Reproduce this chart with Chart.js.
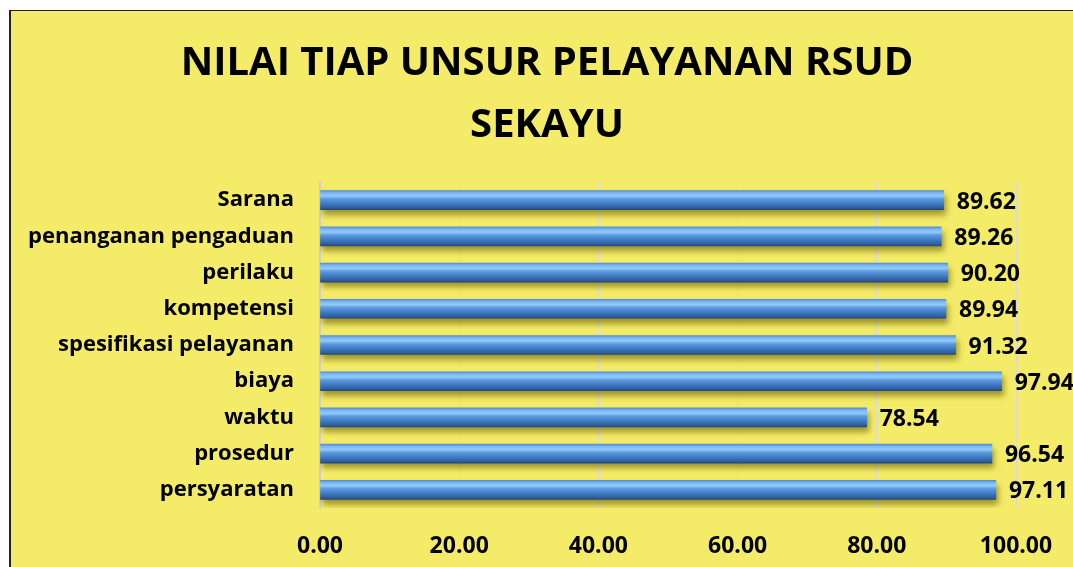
<!DOCTYPE html>
<html>
<head>
<meta charset="utf-8">
<script src="https://cdn.jsdelivr.net/npm/chart.js@4.4.1/dist/chart.umd.min.js"></script>
<style>
  html, body { margin: 0; padding: 0; background: #fff; overflow: hidden; }
  #frame {
    position: absolute; left: 9px; top: 10px; width: 1080px; height: 570px;
    background: #F4EC68; border-left: 2px solid #222; border-top: 1px solid #222;
  }
  #wrap { position: absolute; left: 0; top: 0; width: 1072px; height: 556px; }
</style>
</head>
<body>
<div id="frame"><div id="wrap"><canvas id="chart"></canvas></div></div>
<script>
// data (top to bottom)
const categories = [
  "Sarana",
  "penanganan pengaduan",
  "perilaku",
  "kompetensi",
  "spesifikasi pelayanan",
  "biaya",
  "waktu",
  "prosedur",
  "persyaratan",
];
const values = [89.62, 89.26, 90.2, 89.94, 91.32, 97.94, 78.54, 96.54, 97.11];
const xTicks = [0, 20, 40, 60, 80, 100];

const FONT = "'Open Sans', 'Noto Sans', sans-serif";
const BAR_H = 19;

// cylinder look gradient for each bar
const barFill = (context) => {
  const chart = context.chart;
  const yScale = chart.scales.y;
  const yc = yScale ? yScale.getPixelForValue(context.dataIndex) : NaN;
  if (!isFinite(yc)) return "#4a88d0";
  const g = chart.ctx.createLinearGradient(0, yc - BAR_H / 2, 0, yc + BAR_H / 2);
  g.addColorStop(0, "#4f8fd8");
  g.addColorStop(0.12, "#7ab6f2");
  g.addColorStop(0.28, "#92cbfb");
  g.addColorStop(0.45, "#5a98e0");
  g.addColorStop(0.7, "#3f78c0");
  g.addColorStop(0.9, "#2f5f9e");
  g.addColorStop(1, "#24487a");
  return g;
};

// shadow under bars
const barShadow = {
  id: "barShadow",
  beforeDatasetsDraw(chart) {
    const ctx = chart.ctx;
    ctx.save();
    ctx.shadowColor = "rgba(100, 90, 0, 0.6)";
    ctx.shadowBlur = 6;
    ctx.shadowOffsetX = 2;
    ctx.shadowOffsetY = 5;
  },
  afterDatasetsDraw(chart) {
    chart.ctx.restore();
  },
};

// value labels at the end of each bar
const valueLabels = {
  id: "valueLabels",
  afterDraw(chart) {
    const ctx = chart.ctx;
    const meta = chart.getDatasetMeta(0);
    ctx.save();
    ctx.font = "bold 23px " + FONT;
    ctx.fillStyle = "#000";
    ctx.textAlign = "left";
    ctx.textBaseline = "middle";
    meta.data.forEach((bar, i) => {
      ctx.fillText(values[i].toFixed(2), bar.x + 13, bar.y + 2);
    });
    ctx.restore();
  },
};

new Chart(document.getElementById("chart"), {
  type: "bar",
  data: {
    labels: categories,
    datasets: [
      {
        data: values,
        backgroundColor: barFill,
        borderWidth: 0,
        barThickness: BAR_H,
      },
    ],
  },
  options: {
    indexAxis: "y",
    responsive: true,
    maintainAspectRatio: false,
    animation: false,
    layout: { padding: 0 },
    plugins: {
      legend: { display: false },
      tooltip: { enabled: false },
      title: {
        display: true,
        text: ["NILAI TIAP UNSUR PELAYANAN RSUD", "SEKAYU"],
        color: "#000",
        font: { family: FONT, size: 40, weight: "bold", lineHeight: 1.55 },
        padding: { top: 22, bottom: 25 },
      },
    },
    scales: {
      x: {
        min: 0,
        max: 100,
        afterBuildTicks: (scale) => {
          scale.ticks = xTicks.map((v) => ({ value: v }));
        },
        afterFit: (scale) => {
          scale.height = 59;
        },
        grid: { color: "#d9d9d9", lineWidth: 1, drawTicks: false },
        border: { display: false },
        ticks: {
          color: "#000",
          padding: 25,
          font: { family: FONT, size: 23, weight: "bold" },
          callback: (v) => Number(v).toFixed(2),
        },
      },
      y: {
        afterFit: (scale) => {
          scale.width = 309;
        },
        grid: { display: false, drawTicks: false },
        border: { display: true, color: "#cfcfcf", width: 2 },
        ticks: {
          color: "#000",
          padding: 26,
          font: { family: FONT, size: 22, weight: "bold" },
        },
      },
      // empty right axis, keeps room for the value labels
      yRight: {
        type: "category",
        position: "right",
        afterFit: (scale) => {
          scale.width = 67;
        },
        grid: { display: false, drawTicks: false },
        border: { display: false },
        ticks: { display: false },
      },
    },
  },
  plugins: [barShadow, valueLabels],
});
</script>
</body>
</html>
